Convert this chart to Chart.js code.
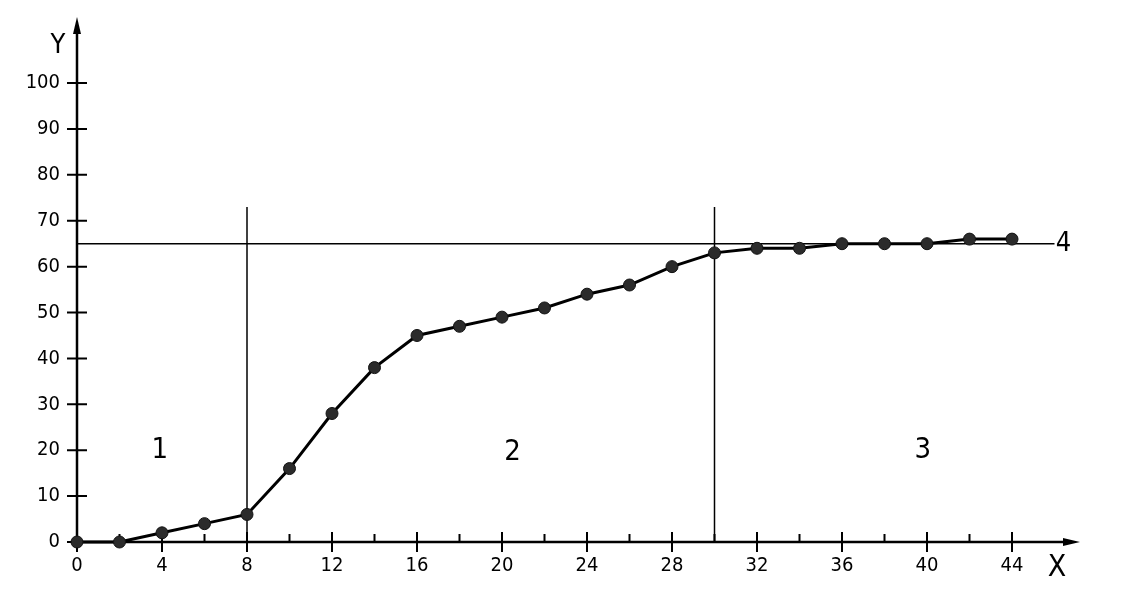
<!DOCTYPE html>
<html lang="en">
<head>
    <meta charset="UTF-8">
    <title>Curve</title>
    <style>
        body { margin: 0; background: #fff; }
        canvas { display: block; }
    </style>
    <script src="https://cdn.jsdelivr.net/npm/chart.js"></script>
</head>
<body>
    <canvas id="chart" width="1132" height="596"></canvas>
    <script>
        // measured curve
        const xValues = [0, 2, 4, 6, 8, 10, 12, 14, 16, 18, 20, 22, 24, 26, 28, 30, 32, 34, 36, 38, 40, 42, 44];
        const yValues = [0, 0, 2, 4, 6, 16, 28, 38, 45, 47, 49, 51, 54, 56, 60, 63, 64, 64, 65, 65, 65, 66, 66];

        const xTickLabels = [0, 4, 8, 12, 16, 20, 24, 28, 32, 36, 40, 44];
        const xMinorTicks = [2, 6, 10, 14, 18, 22, 26, 30, 34, 38, 42];
        const yTickLabels = [0, 10, 20, 30, 40, 50, 60, 70, 80, 90, 100];

        // zone boundaries and the level line "4"
        const zoneBounds = [8, 30];
        const zoneBoundTop = 73;
        const levelValue = 65;
        const levelEnd = 46;
        const zoneNames = ['1', '2', '3'];
        const zoneNameX = [3.9, 20.5, 39.8];
        const zoneNameY = [20, 19.6, 20];

        const FONT = "'Liberation Sans Narrow', 'DejaVu Sans Condensed', sans-serif";

        const points = xValues.map((x, i) => ({ x: x, y: yValues[i] }));

        const refLines = [];
        zoneBounds.forEach(b => {
            refLines.push({
                type: 'line',
                data: [{ x: b, y: 0 }, { x: b, y: zoneBoundTop }],
                borderColor: '#000',
                borderWidth: 1.5,
                pointRadius: 0,
                clip: false,
                order: 2
            });
        });
        refLines.push({
            type: 'line',
            data: [{ x: 0, y: levelValue }, { x: levelEnd, y: levelValue }],
            borderColor: '#000',
            borderWidth: 1.5,
            pointRadius: 0,
            clip: false,
            order: 2
        });

        const drawingPlugin = {
            id: 'drawing',
            beforeDatasetsDraw(chart) {
                const ctx = chart.ctx;
                const xs = chart.scales.x;
                const ys = chart.scales.y;
                const x0 = xs.getPixelForValue(0);
                const y0 = ys.getPixelForValue(0);
                const top = chart.chartArea.top;
                const right = chart.chartArea.right;

                ctx.save();
                ctx.strokeStyle = '#000';
                ctx.fillStyle = '#000';
                ctx.lineWidth = 2.5;

                // axes
                ctx.beginPath();
                ctx.moveTo(x0, y0);
                ctx.lineTo(x0, top + 10);
                ctx.moveTo(x0, y0);
                ctx.lineTo(right - 10, y0);
                ctx.stroke();

                // arrow heads
                ctx.beginPath();
                ctx.moveTo(x0, top);
                ctx.lineTo(x0 - 4, top + 17);
                ctx.lineTo(x0 + 4, top + 17);
                ctx.closePath();
                ctx.fill();
                ctx.beginPath();
                ctx.moveTo(right, y0);
                ctx.lineTo(right - 17, y0 - 4);
                ctx.lineTo(right - 17, y0 + 4);
                ctx.closePath();
                ctx.fill();

                // ticks
                ctx.lineWidth = 2;
                ctx.beginPath();
                yTickLabels.forEach(v => {
                    const py = ys.getPixelForValue(v);
                    ctx.moveTo(x0 - 10, py);
                    ctx.lineTo(x0 + 10, py);
                });
                xTickLabels.forEach(v => {
                    const px = xs.getPixelForValue(v);
                    ctx.moveTo(px, y0 - 10);
                    ctx.lineTo(px, y0 + 10);
                });
                xMinorTicks.forEach(v => {
                    const px = xs.getPixelForValue(v);
                    ctx.moveTo(px, y0 - 8);
                    ctx.lineTo(px, y0);
                });
                ctx.stroke();
                ctx.restore();
            },
            afterDraw(chart) {
                const ctx = chart.ctx;
                const xs = chart.scales.x;
                const ys = chart.scales.y;
                const x0 = xs.getPixelForValue(0);
                const y0 = ys.getPixelForValue(0);
                ctx.save();
                ctx.fillStyle = '#000';
                ctx.textAlign = 'center';
                ctx.textBaseline = 'middle';

                ctx.font = '27px ' + FONT;
                ctx.fillText('Y', x0 - 19, chart.chartArea.top + 29);
                ctx.font = '30px ' + FONT;
                ctx.fillText('X', chart.chartArea.right - 23, y0 + 26);

                ctx.font = '29px ' + FONT;
                zoneNames.forEach((n, i) => {
                    ctx.fillText(n, xs.getPixelForValue(zoneNameX[i]), ys.getPixelForValue(zoneNameY[i]));
                });
                ctx.font = '27px ' + FONT;
                ctx.fillText('4', xs.getPixelForValue(levelEnd) + 9, ys.getPixelForValue(levelValue));
                ctx.restore();
            }
        };

        new Chart(document.getElementById('chart'), {
            type: 'line',
            data: {
                datasets: [
                    {
                        data: points,
                        borderColor: '#000',
                        borderWidth: 3,
                        pointRadius: 6,
                        pointBackgroundColor: '#2b2b2b',
                        pointBorderColor: '#111',
                        pointBorderWidth: 1,
                        tension: 0,
                        clip: false,
                        order: 1
                    },
                    ...refLines
                ]
            },
            options: {
                responsive: false,
                animation: false,
                layout: { padding: { top: 17, right: 52, left: 0, bottom: 0 } },
                plugins: {
                    legend: { display: false },
                    tooltip: { enabled: false }
                },
                scales: {
                    x: {
                        type: 'linear',
                        min: 0,
                        max: 47.2,
                        grid: { display: false, drawTicks: false },
                        border: { display: false },
                        afterBuildTicks: s => { s.ticks = xTickLabels.map(v => ({ value: v })); },
                        afterFit: s => { s.height = 54; s.paddingLeft = 0; s.paddingRight = 0; },
                        ticks: {
                            autoSkip: false,
                            maxRotation: 0,
                            padding: 12,
                            color: '#000',
                            font: { family: FONT, size: 20 }
                        }
                    },
                    y: {
                        type: 'linear',
                        min: 0,
                        max: 114.4,
                        grid: { display: false, drawTicks: false },
                        border: { display: false },
                        afterBuildTicks: s => { s.ticks = yTickLabels.map(v => ({ value: v })); },
                        afterFit: s => { s.width = 77; s.paddingTop = 0; s.paddingBottom = 0; },
                        ticks: {
                            padding: 17,
                            color: '#000',
                            font: { family: FONT, size: 20 }
                        }
                    }
                }
            },
            plugins: [drawingPlugin]
        });
    </script>
</body>
</html>
